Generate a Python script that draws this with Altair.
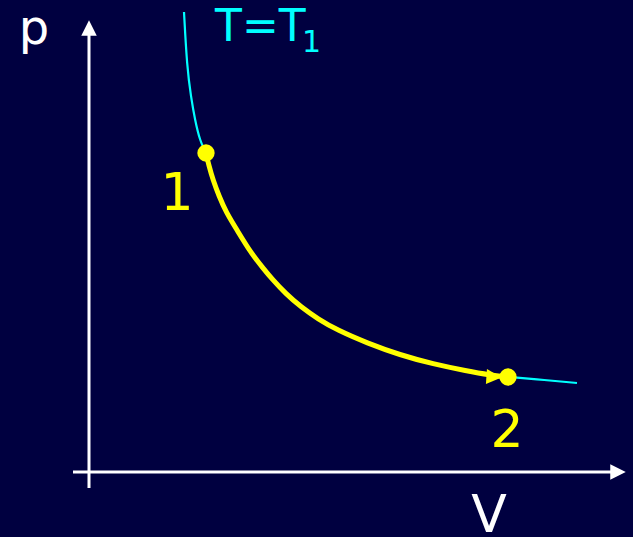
import altair as alt
import pandas as pd

# Isotherm T = T1 in the p-V plane (arbitrary units, origin at the axis crossing)
iso_V = [95, 98, 102, 106, 111, 117, 120, 124, 130, 137, 148, 162, 174, 183, 197, 212,
         229, 248, 278, 311, 344, 378, 401, 419, 456, 488]
iso_p = [460, 405, 375, 352, 331, 319, 306, 292, 276, 260, 242, 219, 204, 193, 178, 165,
         153, 142, 129, 117, 108, 101, 97, 95, 92, 89]

# The process path 1 -> 2 along the isotherm
proc_V = [117, 120, 124, 130, 137, 148, 162, 174, 183, 197, 212, 229, 248, 278, 311, 344,
          378, 401, 419]
proc_p = [319, 306, 292, 276, 260, 242, 219, 204, 193, 178, 165, 153, 142, 129, 117, 108,
          101, 97, 95]

# States 1 and 2
state_names = ["1", "2"]
state_V = [117, 419]
state_p = [319, 95]

BG = "#000040"
CYAN = "#00ffff"
YELLOW = "#ffff00"
FONT = "DejaVu Sans"

xs = alt.Scale(domain=[-89, 544], nice=False, zero=False)
ys = alt.Scale(domain=[-65, 472], nice=False, zero=False)


def X(field="V"):
    return alt.X(f"{field}:Q", scale=xs, axis=None)


def Y(field="p"):
    return alt.Y(f"{field}:Q", scale=ys, axis=None)


iso_df = pd.DataFrame({"V": iso_V, "p": iso_p})
proc_df = pd.DataFrame({"V": proc_V, "p": proc_p})
state_df = pd.DataFrame({"name": state_names, "V": state_V, "p": state_p})

# Coordinate axes drawn as arrows
axes_df = pd.DataFrame({
    "V": [0, -16], "p": [-16, 0],
    "V2": [0, 523], "p2": [440, 0],
})
axes = alt.Chart(axes_df).mark_rule(color="white", strokeWidth=3).encode(
    x=X("V"), y=Y("p"), x2="V2:Q", y2="p2:Q"
)
heads_df = pd.DataFrame({"V": [0, 529], "p": [444, 0],
                         "shape": ["M0,-1L1,1L-1,1Z", "M1,0L-1,-1L-1,1Z"]})
heads = alt.Chart(heads_df).mark_point(filled=True, opacity=1, color="white", size=240).encode(
    x=X(), y=Y(), shape=alt.Shape("shape:N", scale=None, legend=None)
)

isotherm = alt.Chart(iso_df).mark_line(color=CYAN, strokeWidth=2.2, interpolate="basis").encode(
    x=X(), y=Y()
)
process = alt.Chart(proc_df).mark_line(color=YELLOW, strokeWidth=5, interpolate="basis").encode(
    x=X(), y=Y()
)
arrow_df = pd.DataFrame({"V": [405], "p": [95]})
arrow = alt.Chart(arrow_df).mark_point(
    filled=True, opacity=1, color=YELLOW, size=230, shape="M1,0L-1,-1L-1,1Z", angle=4
).encode(x=X(), y=Y())

states = alt.Chart(state_df).mark_circle(color=YELLOW, opacity=1, size=300).encode(x=X(), y=Y())

# Text labels
lab_df = pd.DataFrame({
    "text": ["p", "V", "1", "2"],
    "V": [-55, 400, 88, 418],
    "p": [428, -60, 262, 25],
    "color": ["white", "white", YELLOW, YELLOW],
    "size": [48, 52, 52, 52],
})
labels = alt.Chart(lab_df).mark_text(font=FONT, align="center", baseline="alphabetic").encode(
    x=X(), y=Y(), text="text:N",
    color=alt.Color("color:N", scale=None),
    size=alt.Size("size:Q", scale=None),
)
t_df = pd.DataFrame({"V": [126], "p": [431], "text": ["T=T"]})
t_label = alt.Chart(t_df).mark_text(
    font=FONT, fontSize=44, color=CYAN, align="left", baseline="alphabetic"
).encode(x=X(), y=Y(), text="text:N")
sub_df = pd.DataFrame({"V": [213], "p": [420], "text": ["1"]})
sub_label = alt.Chart(sub_df).mark_text(
    font=FONT, fontSize=30, color=CYAN, align="left", baseline="alphabetic"
).encode(x=X(), y=Y(), text="text:N")

chart = alt.layer(
    axes, heads, isotherm, process, arrow, states, labels, t_label, sub_label
).properties(
    width=633, height=537, background=BG, padding=0,
    autosize=alt.AutoSizeParams(type="none"),
).configure_view(stroke=None)

chart.save("out.html", embed_options={"renderer": "svg", "actions": False})
